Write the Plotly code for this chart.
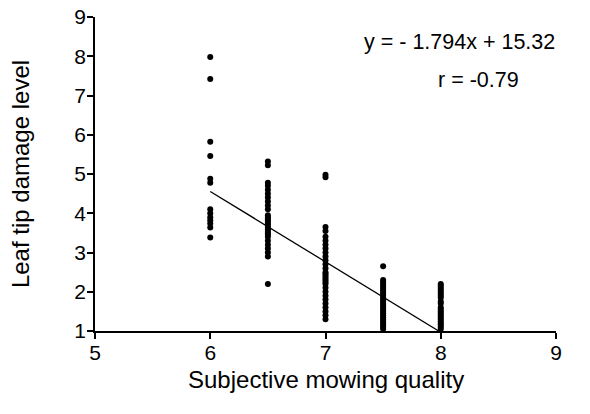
import plotly.graph_objects as go

# Data
x_levels = [6, 6.5, 7, 7.5, 8]
y_at_6 = [7.98, 7.42, 5.82, 5.46, 4.88, 4.78, 4.1, 4.0, 3.9, 3.82, 3.74, 3.64, 3.38]
y_at_65 = [5.32, 5.22, 4.78, 4.7, 4.6, 4.5, 4.4, 4.3, 4.2, 4.1, 3.95, 3.9, 3.85, 3.8,
           3.75, 3.7, 3.65, 3.6, 3.55, 3.5, 3.45, 3.4, 3.3, 3.2, 3.1, 3.0, 2.9, 2.2]
y_at_7 = [4.98, 4.92, 3.65, 3.55, 3.4, 3.3, 3.2, 3.1, 3.0, 2.9, 2.8, 2.7, 2.6, 2.5,
          2.45, 2.4, 2.35, 2.3, 2.25, 2.2, 2.1, 2.0, 1.9, 1.8, 1.7, 1.6, 1.5, 1.4, 1.3]
y_at_75 = [2.65, 2.3, 2.25, 2.2, 2.15, 2.1, 2.05, 2.0, 1.95, 1.9, 1.85, 1.8, 1.75, 1.7,
           1.65, 1.6, 1.55, 1.5, 1.45, 1.4, 1.35, 1.3, 1.25, 1.2, 1.15, 1.1, 1.05]
y_at_8 = [2.2, 2.15, 2.1, 2.05, 2.0, 1.95, 1.9, 1.85, 1.75, 1.7, 1.6, 1.55, 1.5, 1.45,
          1.4, 1.35, 1.3, 1.25, 1.2, 1.15, 1.1, 1.05]
groups = [y_at_6, y_at_65, y_at_7, y_at_75, y_at_8]

slope = -1.794
intercept = 15.32
r_value = -0.79
fit_x_start = 6
y_floor = 1

x_ticks = [5, 6, 7, 8, 9]
y_ticks = [1, 2, 3, 4, 5, 6, 7, 8, 9]

xs, ys = [], []
for xv, g in zip(x_levels, groups):
    xs += [xv] * len(g)
    ys += g

fit_x_end = (y_floor - intercept) / slope
fit_x = [fit_x_start, fit_x_end]
fit_y = [slope * v + intercept for v in fit_x]

FONT = "Liberation Sans, Arial, sans-serif"

fig = go.Figure()
fig.add_trace(go.Scatter(x=fit_x, y=fit_y, mode="lines",
                         line=dict(color="black", width=1.3), showlegend=False))
fig.add_trace(go.Scatter(x=xs, y=ys, mode="markers",
                         marker=dict(color="black", size=6), showlegend=False,
                         cliponaxis=False))

axis_common = dict(showgrid=False, zeroline=False, showline=True, linecolor="black",
                   linewidth=1.5, ticks="outside", ticklen=6, tickwidth=1.5,
                   tickcolor="black", tickfont=dict(family=FONT, size=21, color="black"),
                   mirror=False, automargin=False, ticklabeloverflow="allow")

fig.update_layout(
    width=590, height=414,
    margin=dict(l=95, r=34, t=17, b=83),
    paper_bgcolor="white", plot_bgcolor="white",
    font=dict(family=FONT, color="black"),
    xaxis=dict(range=[5, 9], tickvals=x_ticks, ticktext=[str(v) for v in x_ticks],
               ticklabelstandoff=-4,
               **axis_common),
    yaxis=dict(range=[1, 9], tickvals=y_ticks, ticktext=[str(v) for v in y_ticks],
               ticklabelstandoff=-3,
               title=dict(text="Leaf tip damage level", font=dict(family=FONT, size=24),
                          standoff=38),
               **axis_common),
    annotations=[
        dict(x=0.5, y=0, xref="paper", yref="paper", xanchor="center", yanchor="middle",
             yshift=-48, text="Subjective mowing quality", showarrow=False,
             font=dict(family=FONT, size=24, color="black")),
        dict(x=1.003, y=0.92, xref="paper", yref="paper", xanchor="right", yanchor="middle",
             text=f"y = - {abs(slope)}x + {intercept}", showarrow=False,
             font=dict(family=FONT, size=21.5, color="black")),
        dict(x=0.831, y=0.799, xref="paper", yref="paper", xanchor="center", yanchor="middle",
             text=f"r = {r_value}", showarrow=False,
             font=dict(family=FONT, size=21.5, color="black")),
    ],
)

fig.write_html("out.html", config={"displayModeBar": False},
               post_script="document.body.style.margin='0';document.body.style.overflow='hidden';")
